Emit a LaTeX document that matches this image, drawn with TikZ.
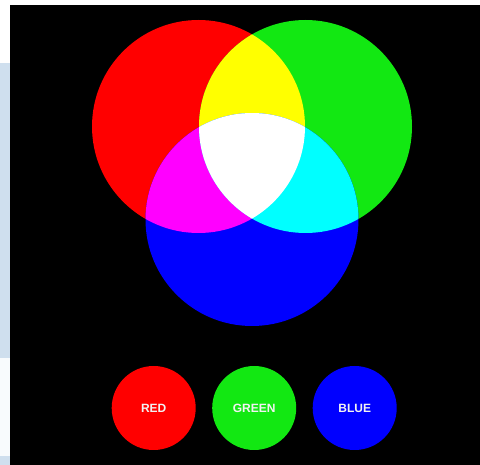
\documentclass[tikz,border=0pt]{standalone}
\usepackage{fontspec}
\setsansfont{Liberation Sans}
\definecolor{cred}{RGB}{255,0,0}
\definecolor{cgreen}{RGB}{18,232,18}
\definecolor{cblue}{RGB}{0,0,255}
\definecolor{cyellow}{RGB}{255,255,0}
\definecolor{cmagenta}{RGB}{255,0,255}
\definecolor{ccyan}{RGB}{0,255,255}
\definecolor{stripblue}{RGB}{207,223,238}
\definecolor{stripwhite}{RGB}{248,251,253}
\definecolor{labelwhite}{RGB}{242,242,242}
\tikzset{
  swatch/.style={circle, minimum size=84pt, inner sep=0pt, text=labelwhite,
    font=\sffamily\bfseries\fontsize{12}{14}\selectfont},
}
\begin{document}
\begin{tikzpicture}[x=1pt,y=-1pt]
\useasboundingbox (0,0) rectangle (480,465);
% page background and side strip
\fill[white] (0,0) rectangle (480,465);
\fill[stripblue] (0,63) rectangle (10,358);
\fill[stripwhite] (0,358) rectangle (10,456);
\fill[stripblue] (0,456) rectangle (10,465);
\fill[black] (10,5) rectangle (480,465);
% circle centres
\coordinate (R) at (198.5,126.5);
\coordinate (G) at (305.5,126.5);
\coordinate (B) at (252,219.5);
\def\rad{106.5}
% primaries
\fill[cred] (R) circle[radius=\rad];
\fill[cgreen] (G) circle[radius=\rad];
\fill[cblue] (B) circle[radius=\rad];
% secondaries
\begin{scope}
  \clip (R) circle[radius=\rad];
  \fill[cyellow] (G) circle[radius=\rad];
  \fill[cmagenta] (B) circle[radius=\rad];
\end{scope}
\begin{scope}
  \clip (G) circle[radius=\rad];
  \fill[ccyan] (B) circle[radius=\rad];
\end{scope}
\begin{scope}
  \clip (R) circle[radius=\rad];
  \clip (G) circle[radius=\rad];
  \fill[white] (B) circle[radius=\rad];
\end{scope}
% swatches
\node[swatch, fill=cred] (red) at (153.7,408) {RED};
\node[swatch, fill=cgreen] (green) at (254.2,408) {GREEN};
\node[swatch, fill=cblue] (blue) at (354.7,408) {BLUE};
\end{tikzpicture}
\end{document}
